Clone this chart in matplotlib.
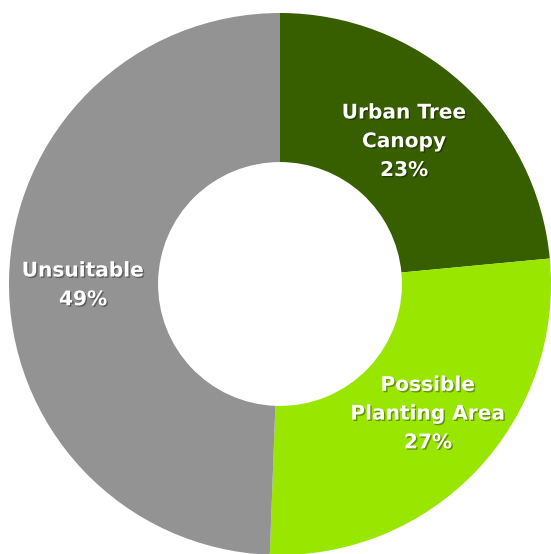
import matplotlib
matplotlib.use("Agg")
import matplotlib.pyplot as plt
import matplotlib.patheffects as pe

# share of land cover
categories = ["Urban Tree\nCanopy", "Possible\nPlanting Area", "Unsuitable"]
values = [23.5, 27.1, 49.4]
shown_pct = [23, 27, 49]
colors = ["#375f00", "#99e600", "#939393"]

fig = plt.figure(figsize=(5.51, 5.54), dpi=100)
ax = fig.add_axes([0, 0, 1, 1])
ax.pie(values, colors=colors, startangle=90, counterclock=False,
       radius=1.0, wedgeprops=dict(width=0.55, linewidth=0))

# label spots (data coords)
spots = [(0.458, 0.525), (0.546, -0.48), (-0.727, -0.005)]
shadow = [pe.withSimplePatchShadow(offset=(1, -1), shadow_rgbFace="black", alpha=0.35)]
for lab, p, (x, y) in zip(categories, shown_pct, spots):
    ax.text(x, y, f"{lab}\n{p}%", ha="center", va="center", color="white",
            fontsize=14.5, fontweight="bold", family="DejaVu Sans",
            linespacing=1.65, path_effects=shadow)

ax.set_xlim(-280 / 271, 271 / 271)
ax.set_ylim(-270 / 271, 284 / 271)
ax.set_aspect("auto")
ax.axis("off")
fig.savefig("out.png", dpi=100)
